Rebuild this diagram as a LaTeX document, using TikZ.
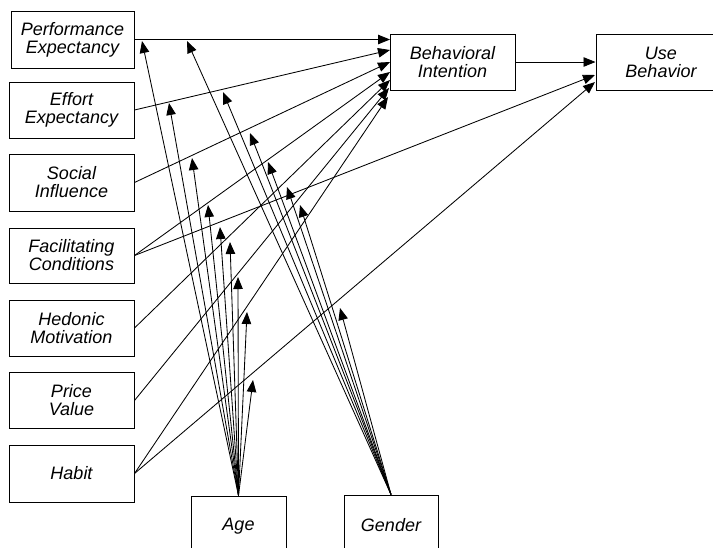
\documentclass[tikz,border=0pt]{standalone}
\usepackage{fontspec}
\setmainfont{Liberation Sans}
\usetikzlibrary{arrows.meta}
\begin{document}
\begin{tikzpicture}[x=1pt,y=-1pt,
  box/.style={draw, line width=1pt, inner sep=0pt, align=center,
    font=\fontsize{18}{18}\selectfont\itshape},
  lbox/.style={box, minimum width=125pt},
  arr/.style={line width=0.85pt, -{Triangle[length=12pt,width=9.5pt]}}]
\clip (0,0) rectangle (713,547);
% left column
\node[box, minimum width=123pt, minimum height=57pt] (PE) at (72.5,39.5) {Performance\\Expectancy};
\node[lbox, minimum height=56pt] (EE) at (71.5,110) {Effort\\Expectancy};
\node[lbox, minimum height=57pt] (SI) at (71.5,182.5) {Social\\Influence};
\node[lbox, minimum height=55pt] (FC) at (71.5,255.5) {Facilitating\\Conditions};
\node[lbox, minimum height=56pt] (HM) at (71.5,328) {Hedonic\\Motivation};
\node[lbox, minimum height=56pt] (PV) at (71.5,400.5) {Price\\Value};
\node[lbox, minimum height=57pt] (HT) at (71.5,473.5) {Habit};
% right
\node[box, minimum width=125pt, minimum height=56pt] (BI) at (452.5,62) {Behavioral\\Intention};
\node[box, minimum width=130pt, minimum height=56pt] (UB) at (661,62) {Use\\Behavior};
% moderators
\node[box, minimum width=95pt, minimum height=60pt] (AG) at (238.5,526) {Age};
\node[box, minimum width=94pt, minimum height=61pt] (GE) at (391,525.5) {Gender};
% end points on BI and UB
\coordinate (bi1) at (390,39.5);
\coordinate (bi2) at (390,50);
\coordinate (bi3) at (390,62);
\coordinate (bi4) at (390,72);
\coordinate (bi5) at (390,80);
\coordinate (bi6) at (389,88);
\coordinate (bi7) at (388,97);
\coordinate (ub2) at (595,75);
\coordinate (ub3) at (595,82);
% moderator targets
\coordinate (a1) at (142,41);
\coordinate (a2) at (169,103);
\coordinate (a3) at (192,158);
\coordinate (a4) at (208,205);
\coordinate (a5) at (220,227);
\coordinate (a6) at (230,242);
\coordinate (a7) at (238,277);
\coordinate (a8) at (247,312);
\coordinate (a9) at (253,380);
\coordinate (g1) at (187,41);
\coordinate (g2) at (223,92);
\coordinate (g3) at (250,133);
\coordinate (g4) at (268,162);
\coordinate (g5) at (287,187);
\coordinate (g6) at (300,205);
\coordinate (g7) at (340,308);
% main paths
\draw[arr] (PE.east) -- (bi1);
\draw[arr] (EE.east) -- (bi2);
\draw[arr] (SI.east) -- (bi3);
\draw[arr] (FC.east) -- (bi4);
\draw[arr] (HM.east) -- (bi5);
\draw[arr] (PV.east) -- (bi6);
\draw[arr] (HT.east) -- (bi7);
\draw[arr] (BI.east) -- (UB.west);
\draw[arr] (FC.east) -- (ub2);
\draw[arr] (HT.east) -- (ub3);
% moderating arrows
\foreach \t in {a1,a2,a3,a4,a5,a6,a7,a8,a9}
  \draw[arr] (AG.north) -- (\t);
\foreach \t in {g1,g2,g3,g4,g5,g6,g7}
  \draw[arr] (GE.north) -- (\t);
\end{tikzpicture}
\end{document}
